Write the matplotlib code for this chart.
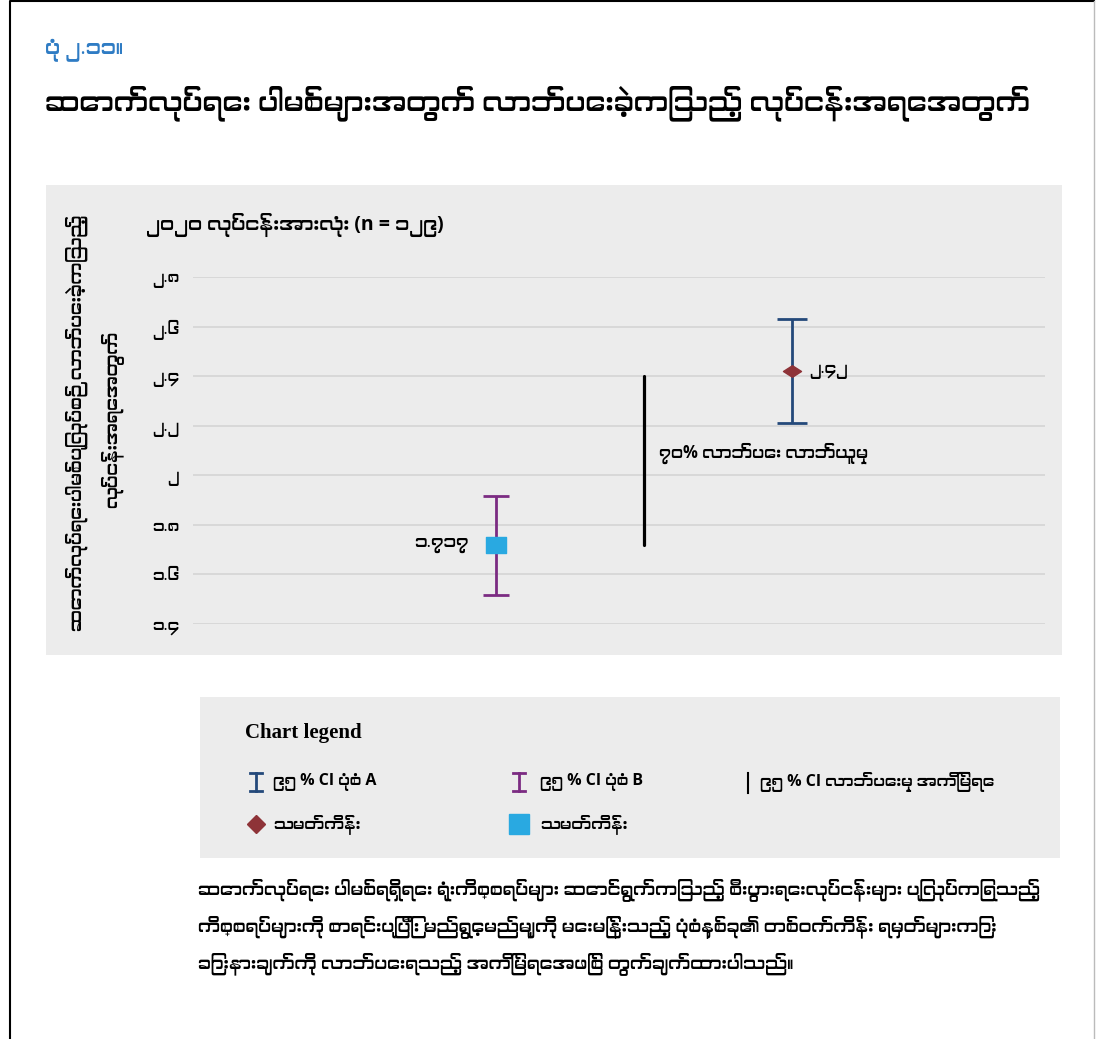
import matplotlib
matplotlib.use("Agg")
import matplotlib.pyplot as plt
from matplotlib import font_manager
from matplotlib.ft2font import FT2Font
from matplotlib.patches import Rectangle
from matplotlib.path import Path

# values
means = [1.717, 2.42]
ci_low = [1.517, 2.211]
ci_high = [1.916, 2.631]
diff_low = 1.72
diff_high = 2.40
diff_label = "၇၀% လာဘ်ပေး လာဘ်ယူမှု"
y_ticks = [1.4, 1.6, 1.8, 2.0, 2.2, 2.4, 2.6, 2.8]

fig_label = "ပုံ ၂.၁၁။"
title = "ဆောက်လုပ်ရေး ပါမစ်များအတွက် လာဘ်ပေးခဲ့ကြသည့် လုပ်ငန်းအရေအတွက်"
subtitle = "၂၀၂၀ လုပ်ငန်းအားလုံး (n = ၁၂၉)"
ylabel_lines = ["ဆောက်လုပ်ရေးပါမစ်ပြုလုပ်စဉ် လာဘ်ပေးခဲ့ကြသည့်", "လုပ်ငန်းအရေအတွက်"]
legend_labels = ["၉၅ % CI ပုံစံ A", "၉၅ % CI ပုံစံ B", "၉၅ % CI လာဘ်ပေးမှု အကြိမ်ရေ",
                 "သမတ်ကိန်း", "သမတ်ကိန်း"]
caption = ["ဆောက်လုပ်ရေး ပါမစ်ရရှိရေး ရုံးကိစ္စရပ်များ ဆောင်ရွက်ကြသည့် စီးပွားရေးလုပ်ငန်းများ ပြုလုပ်ကြရသည့်",
           "ကိစ္စရပ်များကို စာရင်းပြုပြီး မည်ရွေ့မည်မျှကို မေးမြန်းသည့် ပုံစံနှစ်ခု၏ တစ်ဝက်ကိန်း ရမှတ်များကြား",
           "ခြားနားချက်ကို လာဘ်ပေးရသည့် အကြိမ်ရေအဖြစ် တွက်ချက်ထားပါသည်။"]

navy = "#24497a"
purple = "#7b2b82"
sky = "#29a9e1"
wine = "#8e3338"
panel = "#ececec"

MM_DIGITS = str.maketrans("0123456789", "၀၁၂၃၄၅၆၇၈၉")

# flattened marker shapes for the chart points
flat_box = Path([(-1, -0.74), (1, -0.74), (1, 0.74), (-1, 0.74), (-1, -0.74)], closed=True)
flat_diamond = Path([(-1, 0), (0, 0.64), (1, 0), (0, -0.64), (-1, 0)], closed=True)


def mm_num(v):
    return ("%g" % v).translate(MM_DIGITS)


def myanmar_family():
    # pick an installed family that has Myanmar glyphs, preferring dedicated ones
    found = []
    for f in font_manager.fontManager.ttflist:
        try:
            if 0x1000 in FT2Font(f.fname).get_charmap():
                found.append(f.name)
        except Exception:
            pass
    for key in ("Myanmar", "Padauk", "Sans"):
        for name in found:
            if key in name:
                return name
    return found[0] if found else None


fam = ["Open Sans", "DejaVu Sans"]
mm = myanmar_family()
if mm:
    fam = ["Open Sans", mm, "DejaVu Sans"]
plt.rcParams["font.family"] = fam

W, H = 1096, 1039
fig = plt.figure(figsize=(W / 100, H / 100), dpi=100)
renderer = fig.canvas.get_renderer()


def fit(t, px):
    # scale a text so its long side spans px pixels
    bb = t.get_window_extent(renderer)
    t.set_fontsize(t.get_fontsize() * px / max(bb.width, bb.height))
    return t.get_fontsize()


# pixel-space layer for panels, frame, headings and legend
bg = fig.add_axes([0, 0, 1, 1], zorder=0)
bg.set_xlim(0, W)
bg.set_ylim(H, 0)
bg.axis("off")

bg.plot([10, 10, 1094], [H, 1, 1], color="black", lw=1.5)
bg.plot([1094, 1094], [1, H], color="#bbbbbb", lw=1)

bg.add_patch(Rectangle((46, 185), 1016, 470, color=panel, lw=0))
bg.add_patch(Rectangle((200, 697), 860, 161, color=panel, lw=0))

bg.text(45, 50, fig_label, color="#2f7cc4", fontsize=15, va="center")
t = bg.text(45, 103, title, fontsize=20, fontweight="bold", va="center")
fit(t, 983)
bg.text(146, 225, subtitle, fontsize=14, fontweight="bold", va="center")

t = bg.text(77, 423, ylabel_lines[0], rotation=90, fontsize=13, fontweight="bold",
            ha="center", va="center")
ysize = fit(t, 417)
bg.text(112, 419, ylabel_lines[1], rotation=90, fontsize=ysize, fontweight="bold",
        ha="center", va="center")

# legend box
bg.text(245, 733, "Chart legend", family=["Liberation Serif", "DejaVu Serif"],
        fontsize=15, fontweight="bold", va="center")


def ibeam(x, y, color):
    bg.plot([x, x], [y - 9, y + 9], color=color, lw=2)
    bg.plot([x - 6, x + 6], [y - 9, y - 9], color=color, lw=2)
    bg.plot([x - 6, x + 6], [y + 9, y + 9], color=color, lw=2)


ibeam(256, 782, navy)
ibeam(519, 782, purple)
bg.plot([748, 748], [773, 793], color="black", lw=1.5)
bg.plot([256], [824], marker="D", color=wine, markersize=9)
bg.plot([519], [824], marker="s", color=sky, markersize=14)

legend_xy = [(273, 782), (540, 782), (760, 782), (273, 824), (540, 824)]
for (lx, ly), lab in zip(legend_xy, legend_labels):
    bg.text(lx, ly, lab, fontsize=11.5, fontweight="bold", va="center")

t = bg.text(198, 890, caption[0], fontsize=13, va="center")
csize = fit(t, 842)
for i, line in enumerate(caption[1:], start=1):
    bg.text(198, 890 + 37 * i, line, fontsize=csize, va="center")

# chart
ax = fig.add_axes([193 / W, 1 - 624 / H, 852 / W, (624 - 277) / H], zorder=1)
ax.set_facecolor("none")
ax.set_xlim(0, 1)
ax.set_ylim(1.4, 2.8)
for s in ax.spines.values():
    s.set_visible(False)
ax.set_xticks([])
ax.set_yticks(y_ticks)
ax.set_yticklabels([mm_num(v) for v in y_ticks], fontsize=11.5)
ax.tick_params(axis="y", length=0, pad=10)
ax.grid(axis="y", color="#d4d4d4", lw=1.2)
ax.set_axisbelow(True)

x_b, x_a, x_diff = 0.356, 0.703, 0.529

ax.errorbar([x_b], [means[0]], yerr=[[means[0] - ci_low[0]], [ci_high[0] - means[0]]],
            fmt="none", ecolor=purple, elinewidth=2, capsize=9.2, capthick=2, clip_on=False)
ax.plot([x_b], [means[0]], marker=flat_box, color=sky, markersize=15, ls="none", clip_on=False)
ax.text(x_b - 0.032, means[0], mm_num(means[0]), fontsize=12.5, ha="right", va="center")

ax.errorbar([x_a], [means[1]], yerr=[[means[1] - ci_low[1]], [ci_high[1] - means[1]]],
            fmt="none", ecolor=navy, elinewidth=2, capsize=10.9, capthick=2, clip_on=False)
ax.plot([x_a], [means[1]], marker=flat_diamond, color=wine, markersize=13, ls="none", clip_on=False)
ax.text(x_a + 0.02, means[1], mm_num(means[1]), fontsize=11.5, ha="left", va="center")

ax.plot([x_diff, x_diff], [diff_low, diff_high], color="black", lw=2.3, solid_capstyle="round")
ax.text(x_diff + 0.018, 2.09, diff_label, fontsize=12, fontweight="bold", ha="left", va="center")

fig.savefig("out.png", dpi=100)
